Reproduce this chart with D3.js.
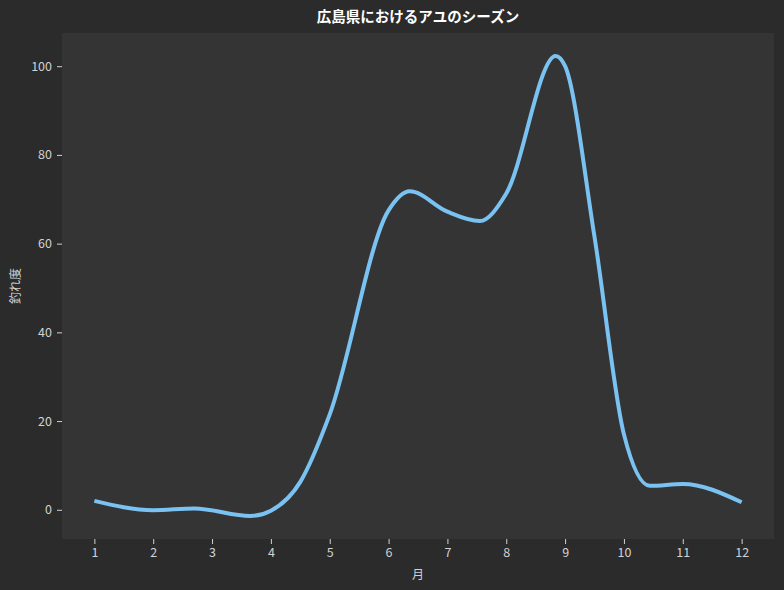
<!DOCTYPE html>
<html>
<head>
<meta charset="utf-8">
<script src="https://cdn.jsdelivr.net/npm/d3@7"></script>
<style>
    body { margin: 0; background: #2b2b2b; }
    svg { display: block; }
    .axis text { font-family: "Noto Sans CJK JP", sans-serif; font-size: 12.5px; fill: #d2d2d2; }
    .axis line { stroke: #d2d2d2; }
    .axis path { display: none; }
</style>
</head>
<body>
<svg id="chart" width="784" height="590"></svg>
<script>

// 月 (knots) and 釣れ度
const months = [1, 2, 2.7, 3.65, 4, 4.5, 5, 6, 6.36, 7, 7.55, 8, 8.84, 9, 9.5, 10, 10.44, 11, 12];
const scores = [2, -0.1, 0.3, -1.4, -0.2, 6.3, 21.5, 67.5, 71.8, 67.2, 65.1, 71.3, 102.3, 100, 61.5, 17, 5.4, 5.8, 1.7];

const xTicks = [1, 2, 3, 4, 5, 6, 7, 8, 9, 10, 11, 12];
const yTicks = [0, 20, 40, 60, 80, 100];

const titleText = "広島県におけるアユのシーズン";
const xLabel = "月";
const yLabel = "釣れ度";

const data = months.map((m, i) => ({ month: m, score: scores[i] }));

const svg = d3.select("#chart");
const margin = { top: 33, right: 10, bottom: 51, left: 62 };
const width = +svg.attr("width") - margin.left - margin.right;
const height = +svg.attr("height") - margin.top - margin.bottom;

svg.append("rect")
    .attr("width", 784)
    .attr("height", 590)
    .attr("fill", "#2b2b2b");

const chartArea = svg.append("g").attr("transform", `translate(${margin.left},${margin.top})`);

chartArea.append("rect")
    .attr("width", width)
    .attr("height", height)
    .attr("fill", "#343434");

// 5% padding like the original plot
const xExt = d3.extent(months);
const yExt = d3.extent(scores);
const xPad = (xExt[1] - xExt[0]) * 0.05;
const yPad = (yExt[1] - yExt[0]) * 0.05;

const xScale = d3.scaleLinear()
    .domain([xExt[0] - xPad, xExt[1] + xPad])
    .range([0, width]);

const yScale = d3.scaleLinear()
    .domain([yExt[0] - yPad, yExt[1] + yPad])
    .range([height, 0]);

const xAxis = d3.axisBottom(xScale).tickValues(xTicks).tickSize(5).tickPadding(4).tickFormat(d3.format("d"));
const yAxis = d3.axisLeft(yScale).tickValues(yTicks).tickSize(5).tickPadding(5).tickFormat(d3.format("d"));

chartArea.append("g")
    .attr("class", "axis")
    .attr("transform", `translate(0,${height})`)
    .call(xAxis);

chartArea.append("g")
    .attr("class", "axis")
    .call(yAxis);

const line = d3.line()
    .x(d => xScale(d.month))
    .y(d => yScale(d.score))
    .curve(d3.curveMonotoneX);

chartArea.append("path")
    .datum(data)
    .attr("d", line)
    .attr("fill", "none")
    .attr("stroke", "#79c2f2")
    .attr("stroke-width", 4)
    .attr("stroke-linejoin", "round")
    .attr("stroke-linecap", "butt");

// title and axis labels
svg.append("text")
    .attr("x", margin.left + width / 2)
    .attr("y", 22)
    .attr("text-anchor", "middle")
    .attr("font-family", "'Noto Sans CJK JP', sans-serif")
    .attr("font-size", "14.5px")
    .attr("font-weight", "bold")
    .attr("fill", "#ffffff")
    .text(titleText);

svg.append("text")
    .attr("x", margin.left + width / 2)
    .attr("y", 579)
    .attr("text-anchor", "middle")
    .attr("font-family", "'Noto Sans CJK JP', sans-serif")
    .attr("font-size", "12px")
    .attr("fill", "#d2d2d2")
    .text(xLabel);

svg.append("text")
    .attr("transform", `translate(20,${margin.top + height / 2}) rotate(-90)`)
    .attr("text-anchor", "middle")
    .attr("font-family", "'Noto Sans CJK JP', sans-serif")
    .attr("font-size", "12px")
    .attr("fill", "#d2d2d2")
    .text(yLabel);

</script>
</body>
</html>
